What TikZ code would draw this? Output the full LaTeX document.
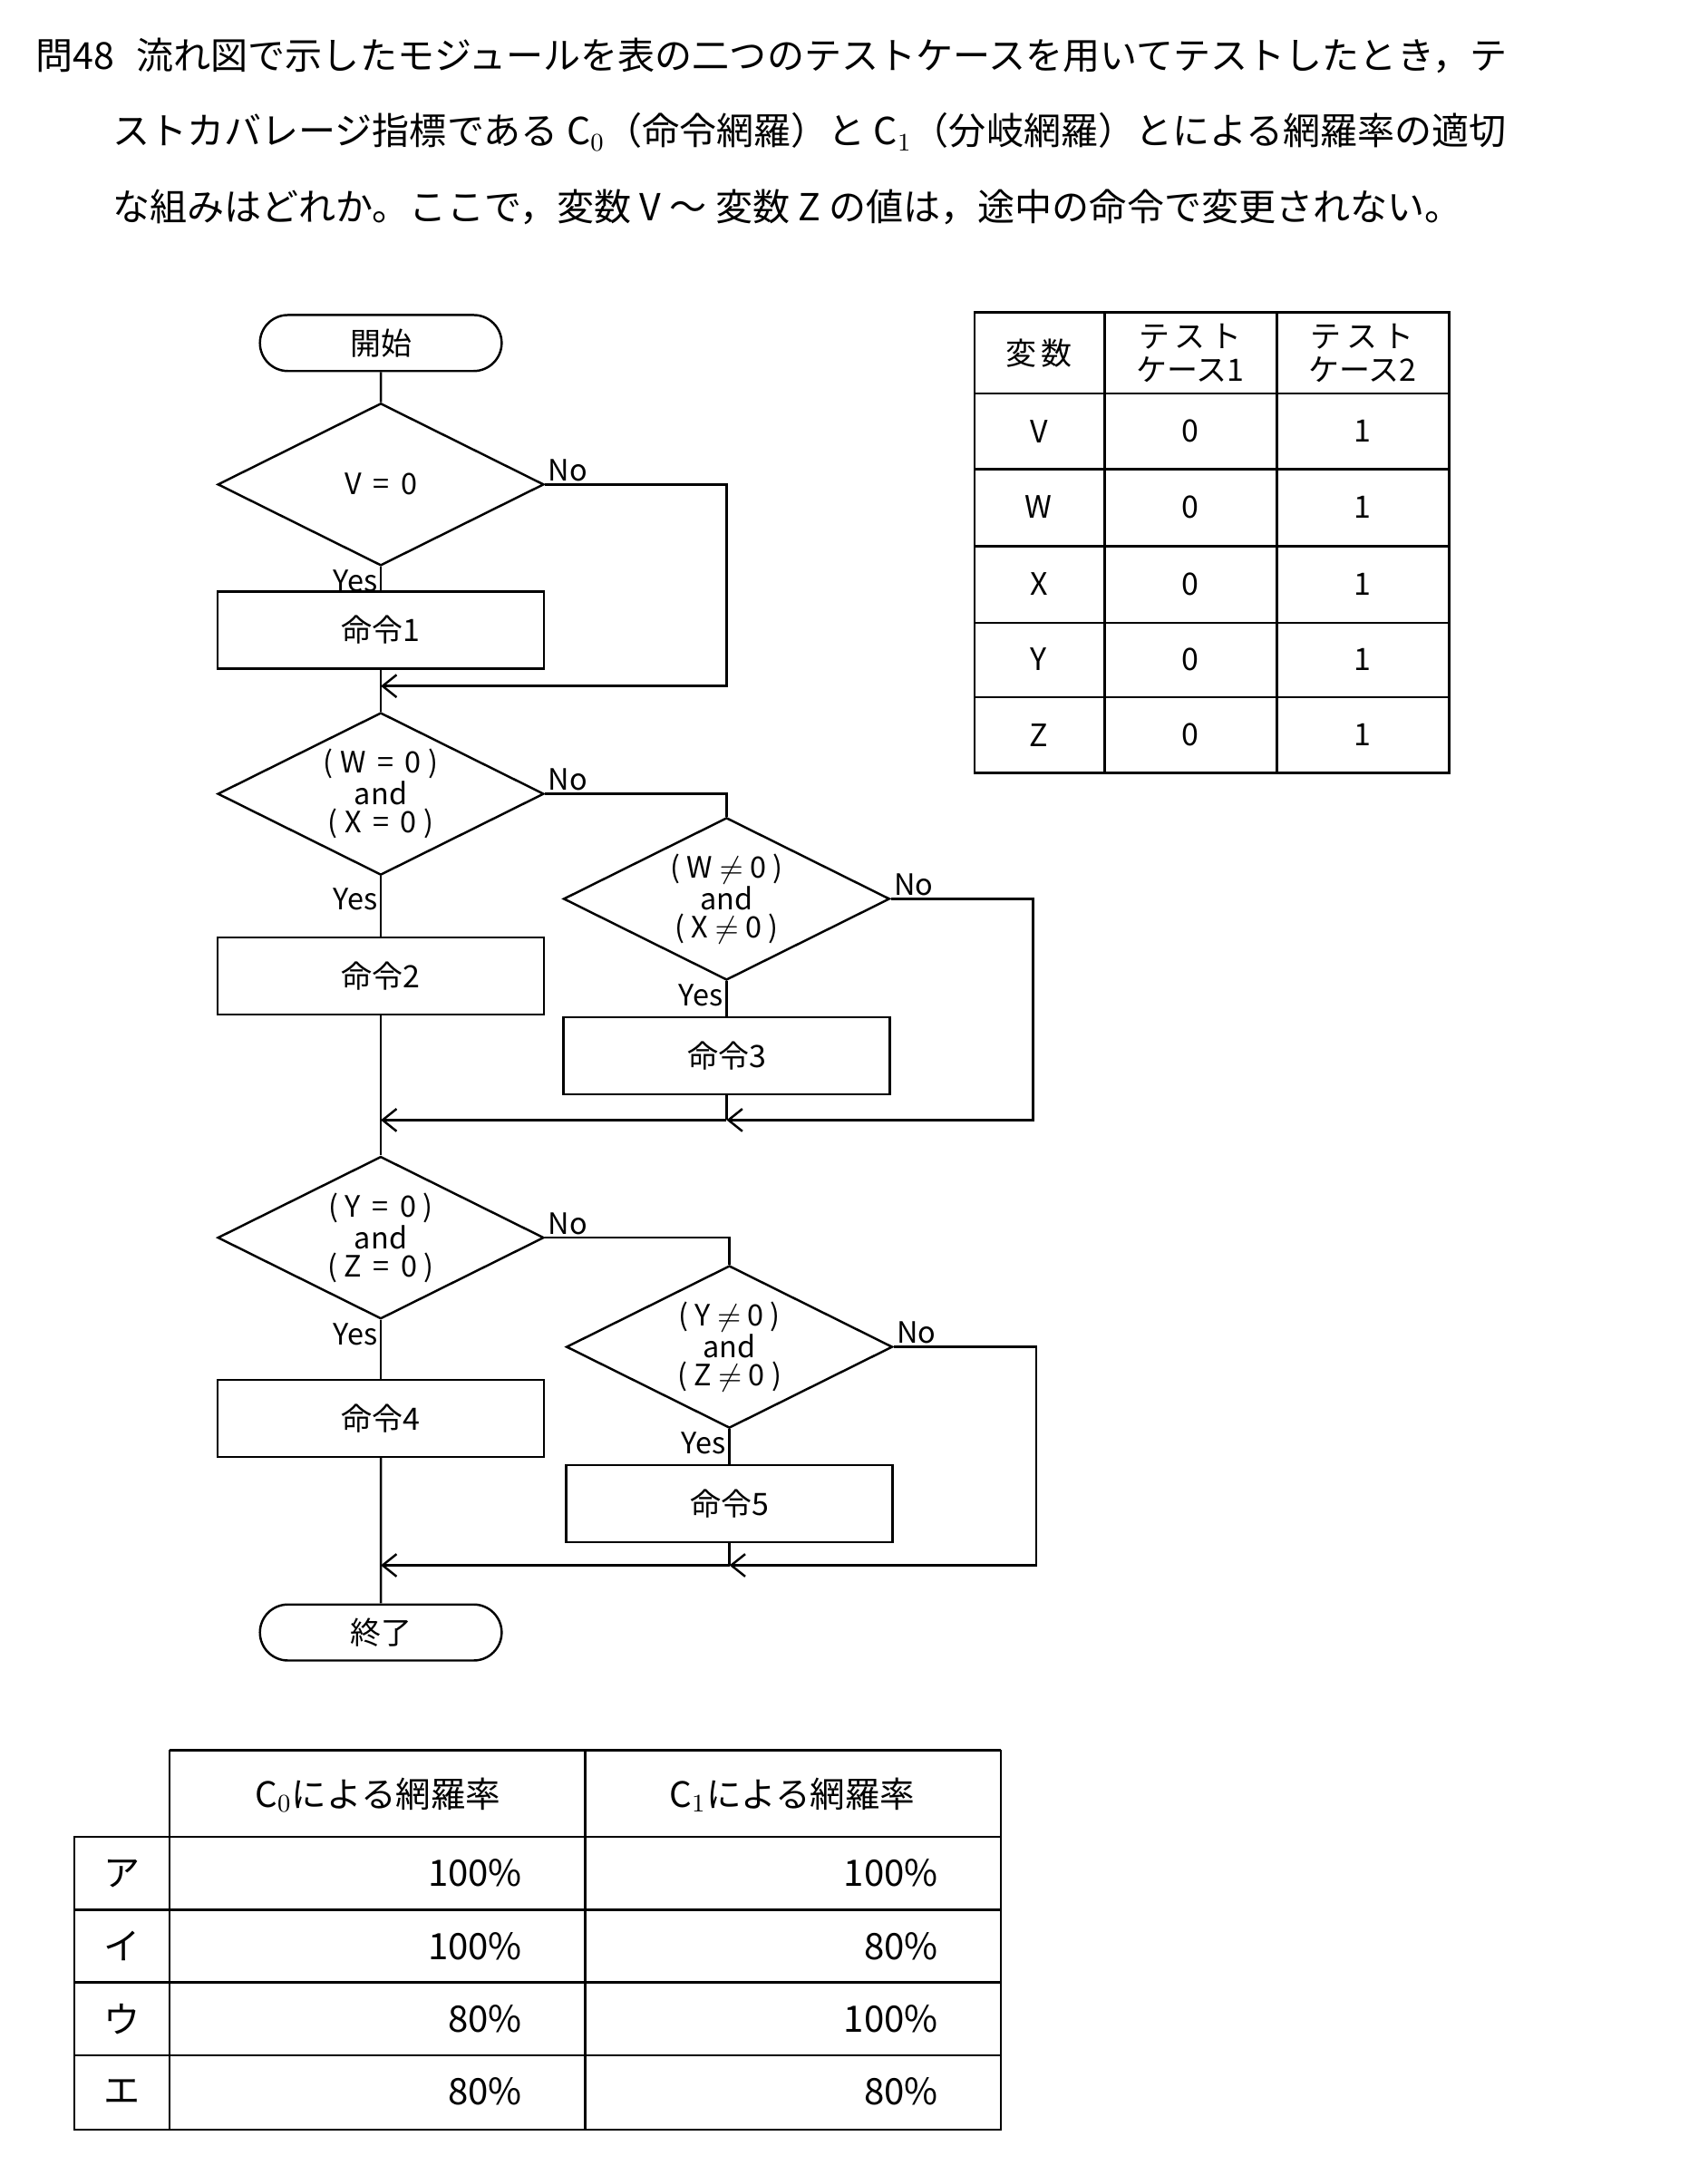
\documentclass[tikz,border=0pt]{standalone}
\usepackage{fontspec}
\setmainfont{Noto Sans CJK JP}
\usetikzlibrary{shapes.geometric,shapes.misc,arrows.meta}

\tikzset{
  flow/.style={line width=0.8pt},
  arr/.style={flow,-{Straight Barb[length=5pt,width=8pt]}},
  terminal/.style={flow,draw,rounded rectangle,minimum width=93pt,minimum height=20pt,font=\fontsize{11}{12}\selectfont},
  process/.style={flow,draw,rectangle,minimum width=116.5pt,minimum height=27.5pt,font=\fontsize{11}{12}\selectfont},
  decision/.style={flow,draw,diamond,aspect=2,inner sep=0pt,minimum width=116.5pt,minimum height=58pt,align=center,font=\fontsize{10.5}{10}\selectfont},
  lbl/.style={font=\fontsize{10.5}{12}\selectfont,inner sep=1pt},
  cell/.style={font=\fontsize{11}{12}\selectfont},
}

\begin{document}
\begin{tikzpicture}[x=0.5pt,y=-0.5pt]
\useasboundingbox (0,0) rectangle (1220,1553.5);

% question text
\begin{scope}[every node/.style={anchor=west,inner sep=0pt,font=\fontsize{13.3}{14}\selectfont}]
\node (q1) at (25,40) {問48\hspace{0.6em}流れ図で示したモジュールを表の二つのテストケースを用いてテストしたとき，テ};
\node (q2) at (80,94) {ストカバレージ指標である C$_0$（命令網羅）と C$_1$（分岐網羅）とによる網羅率の適切};
\node (q3) at (80,148) {な組みはどれか。ここで，変数 V ～ 変数 Z の値は，途中の命令で変更されない。};
\end{scope}

% flowchart
\node[terminal] (start) at (272,245) {開始};
\node[decision] (d1) at (272,346) {V \,=\, 0};
\node[process] (p1) at (272,450) {命令1};
\coordinate (m1) at (272,490);
\node[decision] (d2) at (272,567) {( W \,=\, 0 )\\and\\( X \,=\, 0 )};
\node[decision] (d3) at (519,642) {( W $\neq$ 0 )\\and\\( X $\neq$ 0 )};
\node[process] (p2) at (272,697) {命令2};
\node[process] (p3) at (519,754) {命令3};
\coordinate (m2) at (272,800);
\coordinate (m3) at (519,800);
\node[decision] (d4) at (272,884) {( Y \,=\, 0 )\\and\\( Z \,=\, 0 )};
\node[decision] (d5) at (521,962) {( Y $\neq$ 0 )\\and\\( Z $\neq$ 0 )};
\node[process] (p4) at (272,1013) {命令4};
\node[process] (p5) at (521,1074) {命令5};
\coordinate (m4) at (272,1118);
\coordinate (m5) at (521,1118);
\node[terminal] (stop) at (272,1166) {終了};

\draw[flow] (start) -- (d1);
\draw[flow] (d1) -- (p1);
\draw[flow] (p1) -- (m1) -- (d2);
\draw[arr] (d1.east) -| (519,490) -- (m1);
\draw[flow] (d2) -- (p2);
\draw[flow] (d2.east) -| (d3.north);
\draw[flow] (d3) -- (p3);
\draw[flow] (p3) -- (m3);
\draw[arr] (d3.east) -| (738,800) -- (m3);
\draw[arr] (m3) -- (m2);
\draw[flow] (p2) -- (m2) -- (d4);
\draw[flow] (d4) -- (p4);
\draw[flow] (d4.east) -| (d5.north);
\draw[flow] (d5) -- (p5);
\draw[flow] (p5) -- (m5);
\draw[arr] (d5.east) -| (740,1118) -- (m5);
\draw[arr] (m5) -- (m4);
\draw[flow] (p4) -- (m4) -- (stop);

\node[lbl,anchor=south west] at (d1.east) {No};
\node[lbl,anchor=north east] at (d1.south) {Yes};
\node[lbl,anchor=south west] at (d2.east) {No};
\node[lbl,anchor=north east] at ([yshift=-3pt]d2.south) {Yes};
\node[lbl,anchor=south west] at (d3.east) {No};
\node[lbl,anchor=north east] at (d3.south) {Yes};
\node[lbl,anchor=south west] at (d4.east) {No};
\node[lbl,anchor=north east] at (d4.south) {Yes};
\node[lbl,anchor=south west] at (d5.east) {No};
\node[lbl,anchor=north east] at (d5.south) {Yes};

% test case table
\draw[flow] (696,223) rectangle (1035,552);
\foreach \x in {789,912} \draw[flow] (\x,223) -- (\x,552);
\foreach \y in {281,335,390,445,498} \draw[flow] (696,\y) -- (1035,\y);
\node[cell] (hv) at (742,252) {変\,数};
\node[cell,align=center,inner sep=0pt] (h1) at (850,252) {\fontsize{11}{9.5}\selectfont テ\,ス\,ト\\ケース1};
\node[cell,align=center,inner sep=0pt] (h2) at (973,252) {\fontsize{11}{9.5}\selectfont テ\,ス\,ト\\ケース2};
\foreach \v/\y in {V/308,W/362,X/417,Y/471,Z/525}{
  \node[cell] at (742,\y) {\v};
  \node[cell] at (850,\y) {0};
  \node[cell] at (973,\y) {1};
}

% answer table
\draw[flow] (121,1250) -- (715,1250);
\draw[flow] (53,1312) rectangle (715,1521);
\draw[flow] (121,1250) -- (121,1521);
\foreach \x in {418,715} \draw[flow] (\x,1250) -- (\x,1521);
\foreach \y in {1364,1416,1468} \draw[flow] (53,\y) -- (715,\y);
\node[cell,font=\fontsize{12.5}{13}\selectfont] at (270,1282) {C$_0$による網羅率};
\node[cell,font=\fontsize{12.5}{13}\selectfont] at (566,1282) {C$_1$による網羅率};
\foreach \k/\a/\b/\y in {ア/100\%/100\%/1338,イ/100\%/80\%/1390,ウ/80\%/100\%/1442,エ/80\%/80\%/1494}{
  \node[cell,font=\fontsize{13}{14}\selectfont] at (87,\y) {\k};
  \node[cell,anchor=east,font=\fontsize{13}{14}\selectfont] at (380,\y) {\a};
  \node[cell,anchor=east,font=\fontsize{13}{14}\selectfont] at (677,\y) {\b};
}
\end{tikzpicture}
\end{document}
